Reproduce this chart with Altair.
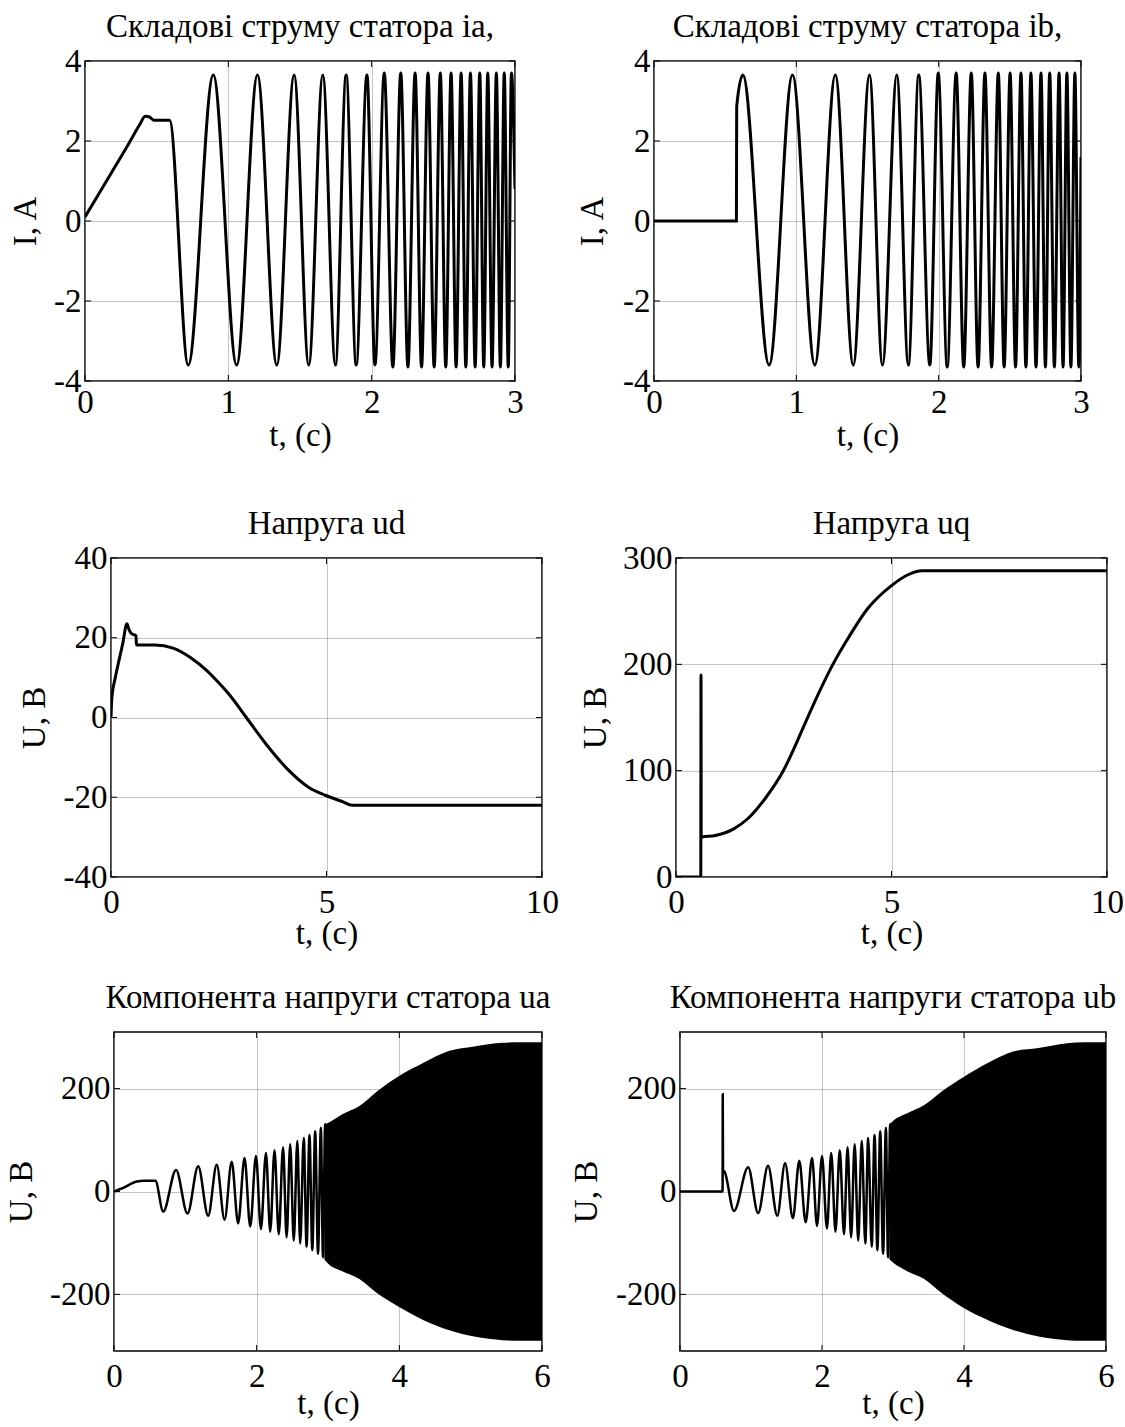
import altair as alt
import pandas as pd

SERIF = "Liberation Serif"
FS = 33
GRID = "#8a8a8a"

# ---------------- data ----------------
# stator current ia (A) vs time (s)
ia_t = [0.0, 0.1, 0.2, 0.3, 0.38, 0.42, 0.45, 0.48, 0.59, 0.72, 0.895, 1.058, 1.203, 1.338,
        1.459, 1.561, 1.659, 1.747, 1.822, 1.892, 1.967, 2.023, 2.088, 2.148, 2.203, 2.253,
        2.303, 2.348, 2.393, 2.436, 2.479, 2.517, 2.554, 2.589, 2.624, 2.657, 2.689, 2.722,
        2.754, 2.782, 2.81, 2.84, 2.87, 2.898, 2.925, 2.953, 2.975, 3.0]
ia_v = [0.1, 0.7, 1.3, 1.9, 2.4, 2.62, 2.6, 2.52, 2.52, -3.6, 3.65, -3.6, 3.65, -3.6,
        3.65, -3.6, 3.65, -3.6, 3.65, -3.6, 3.65, -3.6, 3.7, -3.65, 3.7, -3.65,
        3.7, -3.65, 3.7, -3.65, 3.7, -3.65, 3.7, -3.65, 3.7, -3.65, 3.7, -3.65,
        3.7, -3.65, 3.7, -3.65, 3.7, -3.65, 3.7, -3.65, 3.7, 0.8]

# stator current ib (A) vs time (s)
ib_t = [0.0, 0.579, 0.581, 0.624, 0.809, 0.973, 1.13, 1.274, 1.40, 1.514, 1.605, 1.706, 1.787,
        1.86, 1.938, 1.997, 2.06, 2.123, 2.176, 2.229, 2.277, 2.325, 2.372, 2.419, 2.46,
        2.502, 2.54, 2.578, 2.613, 2.648, 2.684, 2.719, 2.75, 2.78, 2.813, 2.846, 2.874,
        2.901, 2.929, 2.957, 2.985, 3.0]
ib_v = [0.0, 0.0, 2.86, 3.65, -3.6, 3.65, -3.6, 3.65, -3.6, 3.65, -3.6, 3.65, -3.6,
        3.65, -3.6, 3.7, -3.65, 3.7, -3.65, 3.7, -3.65, 3.7, -3.65, 3.7, -3.65,
        3.7, -3.65, 3.7, -3.65, 3.7, -3.65, 3.7, -3.65, 3.7, -3.65, 3.7, -3.65,
        3.7, -3.65, 3.7, -3.65, 1.6]

# voltage ud (V)
ud_t = [0.0, 0.02, 0.1, 0.2, 0.27, 0.37, 0.42, 0.48, 0.58, 0.59, 0.8, 1.02, 1.44, 1.85,
        2.23, 2.5, 2.77, 3.14, 3.6, 4.1, 4.6, 4.97, 5.35, 5.6, 10.0]
ud_v = [0.0, 5.0, 10.0, 15.0, 18.4, 23.5, 22.0, 21.0, 20.5, 18.2, 18.2, 18.2, 17.4, 15.0,
        11.7, 8.7, 5.4, 0.0, -6.7, -13.0, -17.6, -19.5, -21.0, -22.0, -22.0]

# voltage uq (V)
uq_t = [0.0, 0.575, 0.58, 0.585, 0.6, 0.91, 1.33, 1.67, 2.09, 2.49, 3.0, 3.3, 3.64, 4.0,
        4.44, 5.0, 5.37, 5.71, 10.0]
uq_v = [0.0, 0.0, 190.0, 37.0, 37.5, 39.0, 45.0, 55.0, 75.0, 100.0, 145.0, 172.0, 200.0,
        225.0, 252.0, 274.0, 284.0, 288.0, 288.0]

# stator voltage ua (V): resolved swings, then the dense envelope
ua_t = [0.0, 0.12, 0.32, 0.42, 0.58, 0.69, 0.87, 1.03, 1.18, 1.32, 1.44, 1.55, 1.65, 1.74,
        1.83, 1.91, 1.99, 2.06, 2.13, 2.19, 2.25, 2.31, 2.37, 2.42, 2.47, 2.52, 2.57, 2.61,
        2.66, 2.70, 2.74, 2.78, 2.82, 2.86, 2.90, 2.93, 2.96, 3.0]
ua_v = [0.0, 6.5, 19.5, 21.0, 21.0, -39.0, 42.0, -43.0, 49.0, -47.0, 52.0, -55.0, 58.0, -62.0,
        65.0, -68.0, 69.0, -73.0, 75.0, -78.0, 80.0, -83.0, 86.0, -89.0, 92.0, -95.0, 98.0, -101.0,
        104.0, -107.0, 110.0, -114.0, 117.0, -121.0, 124.0, -128.0, 131.0, -135.0]
ua_env_t = [2.95, 3.0, 3.2, 3.44, 3.69, 3.99, 4.34, 4.69, 5.05, 5.45, 5.7, 6.0]
ua_env_hi = [130.0, 133.0, 150.0, 166.0, 195.0, 224.0, 250.0, 273.0, 282.0, 289.0, 290.0, 290.0]
ua_env_lo = [-132.0, -140.0, -155.0, -170.0, -198.0, -224.0, -250.0, -269.0, -282.0, -289.0, -290.0, -290.0]

# stator voltage ub (V)
ub_t = [0.0, 0.6, 0.602, 0.606, 0.63, 0.76, 0.96, 1.10, 1.24, 1.37, 1.48, 1.59, 1.68, 1.77,
        1.86, 1.93, 2.00, 2.07, 2.13, 2.19, 2.25, 2.31, 2.36, 2.41, 2.46, 2.51, 2.56, 2.61,
        2.65, 2.70, 2.74, 2.78, 2.82, 2.86, 2.90, 2.93, 2.96, 3.0]
ub_v = [0.0, 0.0, 189.0, 42.0, 38.0, -38.0, 47.0, -42.0, 50.0, -47.0, 55.0, -52.0, 60.0, -60.0,
        65.0, -67.0, 69.0, -72.0, 75.0, -78.0, 80.0, -83.0, 86.0, -89.0, 92.0, -95.0, 98.0, -101.0,
        104.0, -107.0, 110.0, -114.0, 117.0, -121.0, 124.0, -128.0, 131.0, -135.0]
ub_env_t = [2.95, 3.0, 3.2, 3.44, 3.69, 3.99, 4.34, 4.69, 5.05, 5.45, 5.7, 6.0]
ub_env_hi = [130.0, 137.0, 152.0, 168.0, 195.0, 222.0, 250.0, 272.0, 279.0, 288.0, 290.0, 290.0]
ub_env_lo = [-132.0, -138.0, -155.0, -170.0, -198.0, -226.0, -250.0, -269.0, -282.0, -289.0, -290.0, -290.0]


# ---------------- helpers ----------------
def spacer(w, h):
    return alt.Chart(pd.DataFrame({"z": [0]})).mark_point(opacity=0, size=1).encode(
        x=alt.value(1), y=alt.value(1)
    ).properties(width=w, height=h, view=alt.ViewBackground(strokeOpacity=0))


def x_axis(vals, lp, ext):
    return alt.Axis(values=vals, grid=True, gridColor=GRID, gridDash=[1, 1], gridWidth=1,
                    ticks=False, tickSize=0, domain=False, labelFont=SERIF, labelFontSize=FS,
                    labelColor="black", labelPadding=lp, labelFlush=False, labelOverlap=False,
                    labelExpr="'' + datum.value", title="t, (c)", titleFont=SERIF,
                    titleFontSize=FS, titleFontWeight="normal", titleColor="black",
                    titlePadding=0, minExtent=ext, maxExtent=ext)


def y_axis(vals, title, ext):
    return alt.Axis(values=vals, grid=True, gridColor=GRID, gridDash=[1, 1], gridWidth=1,
                    ticks=False, tickSize=0, domain=False, labelFont=SERIF, labelFontSize=FS,
                    labelColor="black", labelPadding=4, labelOverlap=False,
                    labelExpr="'' + datum.value", title=title, titleFont=SERIF,
                    titleFontSize=FS, titleFontWeight="normal", titleColor="black",
                    titlePadding=0, minExtent=ext, maxExtent=ext)


def panel(title, t, v, xdom, ydom, xvals, yvals, ytitle, w, h, yext, xlp, xext,
          lw=3.0, env=None):
    xs = alt.Scale(domain=xdom, nice=False, zero=False)
    ys = alt.Scale(domain=ydom, nice=False, zero=False)
    xa = x_axis(xvals, xlp, xext)
    ya = y_axis(yvals, ytitle, yext)
    df = pd.DataFrame({"t": t, "v": v})
    layers = [alt.Chart(df).mark_line(color="black", strokeWidth=lw, interpolate="monotone",
                                      clip=True).encode(
        x=alt.X("t:Q", scale=xs, axis=xa),
        y=alt.Y("v:Q", scale=ys, axis=ya),
        order="t:Q",
    )]
    if env is not None:
        et, hi, lo = env
        edf = pd.DataFrame({"t": et, "v": hi, "lo": lo})
        layers.append(alt.Chart(edf).mark_area(color="black", opacity=1, clip=True,
                                               interpolate="monotone").encode(
            x=alt.X("t:Q", scale=xs, axis=xa),
            y=alt.Y("v:Q", scale=ys, axis=ya),
            y2="lo:Q",
        ))
    # short inward tick marks on all four sides of the box
    n = 6
    xt = alt.Chart(pd.DataFrame({"t": xvals}))
    yt = alt.Chart(pd.DataFrame({"v": yvals}))
    xe = alt.X("t:Q", scale=xs, axis=xa)
    ye = alt.Y("v:Q", scale=ys, axis=ya)
    st = dict(color="black", strokeWidth=1)
    layers += [
        xt.mark_rule(**st).encode(x=xe, y=alt.value(h), y2=alt.value(h - n)),
        xt.mark_rule(**st).encode(x=xe, y=alt.value(0), y2=alt.value(n)),
        yt.mark_rule(**st).encode(y=ye, x=alt.value(0), x2=alt.value(n)),
        yt.mark_rule(**st).encode(y=ye, x=alt.value(w), x2=alt.value(w - n)),
    ]
    # panel heading, centred above the box
    layers.append(alt.Chart(pd.DataFrame({"s": [title]})).mark_text(
        font=SERIF, fontSize=FS, color="black", align="center", baseline="alphabetic"
    ).encode(text="s:N", x=alt.value(w / 2), y=alt.value(-24)))
    return alt.layer(*layers).properties(width=w, height=h)


# ---------------- panels ----------------
p1 = panel("Складові струму статора ia,", ia_t, ia_v, [0, 3], [-4, 4], [0, 1, 2, 3],
           [-4, -2, 0, 2, 4], "I, A", 430, 320, yext=43, xlp=5, xext=38)
p2 = panel("Складові струму статора ib,", ib_t, ib_v, [0, 3], [-4, 4], [0, 1, 2, 3],
           [-4, -2, 0, 2, 4], "I, A", 427, 320, yext=45, xlp=5, xext=38)
p3 = panel("Напруга ud", ud_t, ud_v, [0, 10], [-40, 40], [0, 5, 10],
           [-40, -20, 0, 20, 40], "U, B", 431, 319, yext=60, xlp=9, xext=40)
p4 = panel("Напруга uq", uq_t, uq_v, [0, 10], [0, 300], [0, 5, 10],
           [0, 100, 200, 300], "U, B", 431, 319, yext=64, xlp=9, xext=40)
p5 = panel("Компонента напруги статора ua", ua_t, ua_v, [0, 6], [-310, 310], [0, 2, 4, 6],
           [-200, 0, 200], "U, B", 428, 319, yext=76, xlp=9, xext=36, lw=2.5,
           env=(ua_env_t, ua_env_hi, ua_env_lo))
p6 = panel("Компонента напруги статора ub", ub_t, ub_v, [0, 6], [-310, 310], [0, 2, 4, 6],
           [-200, 0, 200], "U, B", 426, 319, yext=77, xlp=9, xext=36, lw=2.5,
           env=(ub_env_t, ub_env_hi, ub_env_lo))


def row(lead, height, left, gap, right):
    return alt.hconcat(spacer(lead, height), left, spacer(gap, 1), right, spacing=0)


chart = alt.vconcat(
    row(8, 446, p1, 51, p2),
    row(17, 423, p3, 18, p4),
    row(4, 330, p5, 17, p6),
    spacing=0,
).properties(
    padding={"left": 0, "top": 10, "right": 0, "bottom": 0}, background="white"
).configure_view(stroke="black", strokeWidth=1.5)

chart.save("out.html", embed_options={"renderer": "svg", "actions": False})
